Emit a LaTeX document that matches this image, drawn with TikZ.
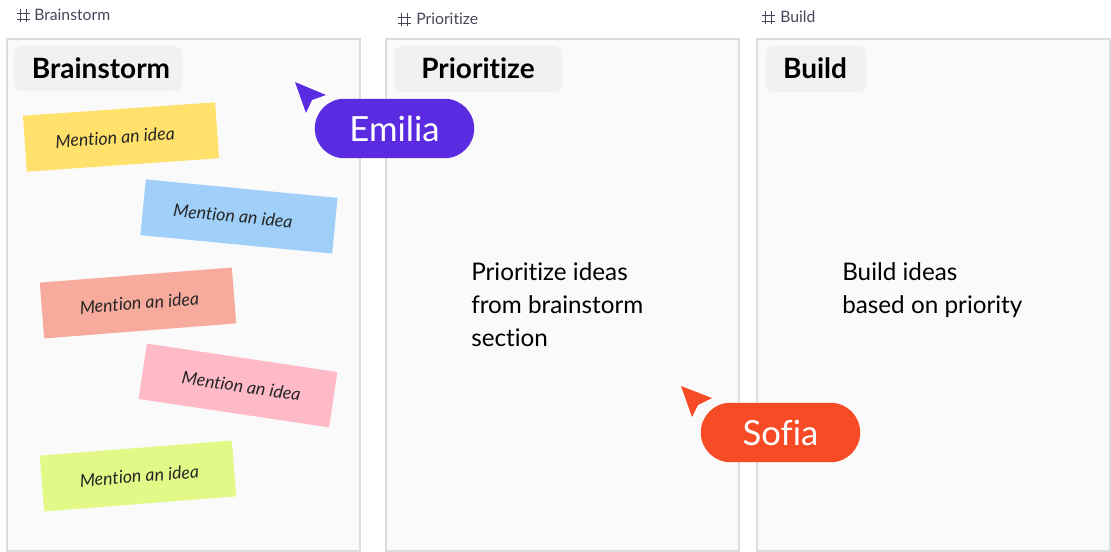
\documentclass[tikz,border=0pt]{standalone}
\usepackage{fontspec}
\setmainfont{Lato}[Ligatures=NoCommon]
\definecolor{framefill}{HTML}{FAFAFA}
\definecolor{frameline}{HTML}{DDDDDD}
\definecolor{chipfill}{HTML}{F1F1F1}
\definecolor{taggray}{HTML}{4A4458}
\definecolor{noteyellow}{HTML}{FFE16B}
\definecolor{noteblue}{HTML}{A0D0FA}
\definecolor{notesalmon}{HTML}{F6AB9C}
\definecolor{notepink}{HTML}{FFBAC8}
\definecolor{notelime}{HTML}{E3F987}
\definecolor{emiliacol}{HTML}{5A2BE0}
\definecolor{sofiacol}{HTML}{F64B25}
\tikzset{
	frame/.style={draw=frameline, line width=1.5pt, fill=framefill},
	chip/.style={fill=chipfill, rounded corners=6pt},
	chiptext/.style={font=\fontsize{21}{24}\selectfont\bfseries, text=black},
	tagtext/.style={font=\fontsize{11.8}{13}\selectfont, text=taggray, anchor=west, inner sep=0pt},
	note/.style={minimum width=144.5pt, minimum height=42pt, inner sep=0pt,
		font=\fontsize{13.3}{15}\selectfont\itshape, text=black!85},
	bodytext/.style={font=\fontsize{18.2}{24.75}\selectfont, text=black, align=left, anchor=north west, inner sep=0pt},
	pill/.style={rounded corners=22.2pt, minimum width=119.5pt, minimum height=44.6pt, inner sep=0pt,
		text=white, font=\fontsize{26}{30}\selectfont},
	pointer/.style={preaction={draw=white, line width=2.5pt, line join=round}},
	hashline/.style={draw=taggray, line width=0.7pt}
}
% the little grid sign in front of a section tag
\newcommand{\hashsign}[2]{
	\draw[hashline] (#1+3,#2-6.5) -- (#1+3,#2+6.5);
	\draw[hashline] (#1+9,#2-6.5) -- (#1+9,#2+6.5);
	\draw[hashline] (#1-0.5,#2-3) -- (#1+12.5,#2-3);
	\draw[hashline] (#1-0.5,#2+3) -- (#1+12.5,#2+3);
}
\begin{document}
\begin{tikzpicture}[x=0.75pt,y=-0.75pt]
	\useasboundingbox (0,0) rectangle (1111,552);
	% the three sections
	\draw[frame] (7,39) rectangle (360,551);
	\draw[frame] (386,39) rectangle (739,551);
	\draw[frame] (757,39) rectangle (1110,551);
	% tags above the sections
	\hashsign{17}{16}
	\node[tagtext] (tagbrainstorm) at (34,15) {Brainstorm};
	\hashsign{398}{20}
	\node[tagtext] (tagprioritize) at (416,19) {Prioritize};
	\hashsign{762}{18}
	\node[tagtext] (tagbuild) at (780,17) {Build};
	% titles
	\fill[chip] (14,46) rectangle (182,91);
	\node[chiptext] (titlebrainstorm) at (101,68.5) {Brainstorm};
	\fill[chip] (394,46) rectangle (562,92);
	\node[chiptext] (titleprioritize) at (478,68.5) {Prioritize};
	\fill[chip] (766,46) rectangle (866,92);
	\node[chiptext] (titlebuild) at (815,68.5) {Build};
	% sticky notes
	\node[note, fill=noteyellow, rotate=4] (noteA) at (121,137) {\hspace*{-9pt}Mention an idea};
	\node[note, fill=noteblue, rotate=-5.5] (noteB) at (239,216.5) {\hspace*{-9pt}Mention an idea};
	\node[note, fill=notesalmon, rotate=4.5] (noteC) at (138,303) {\hspace*{2pt}Mention an idea};
	\node[note, fill=notepink, rotate=-8.5] (noteD) at (238,385.5) {\hspace*{5pt}Mention an idea};
	\node[note, fill=notelime, rotate=4.5] (noteE) at (138,476) {\hspace*{2pt}Mention an idea};
	% section texts
	\node[bodytext] (textprioritize) at (471,262) {Prioritize ideas\\from brainstorm\\section};
	\node[bodytext] (textbuild) at (842,262) {Build ideas\\based on priority};
	% Emilia
	\fill[pointer, emiliacol] (295,82) -- (326,95) -- (312,100) -- (306,113) -- cycle;
	\node[pill, fill=emiliacol] (emilia) at (394.5,128.5) {Emilia};
	% Sofia
	\fill[pointer, sofiacol] (681,386) -- (712,398) -- (698,405) -- (692,417) -- cycle;
	\node[pill, fill=sofiacol] (sofia) at (780.5,432.5) {Sofia};
\end{tikzpicture}
\end{document}
